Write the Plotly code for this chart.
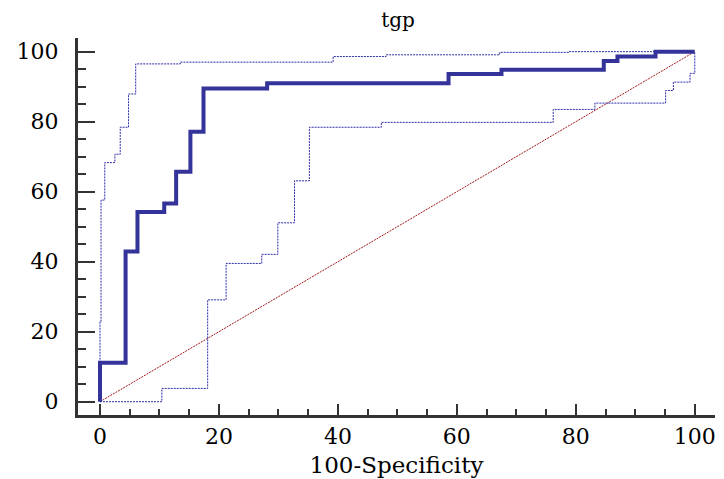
import plotly.graph_objects as go

# ROC curve (100-Specificity vs Sensitivity), step corners
roc_x = [0, 0, 4.3, 6.3, 10.8, 12.8, 15.2, 17.4, 28.1, 58.6, 67.5, 84.7, 87.0, 93.4, 100]
roc_y = [0, 11.1, 42.9, 54.2, 56.6, 65.7, 77.1, 89.5, 91.0, 93.6, 94.8, 97.3, 98.6, 100, 100]

# Upper confidence bound
upper_x = [0, 0, 0.17, 0.8, 2.5, 3.4, 4.8, 6.0, 13.5, 39.2, 48.1, 67.2, 78.8, 100]
upper_y = [0, 22.9, 57.6, 68.3, 70.7, 78.4, 87.9, 96.5, 97.0, 98.6, 99.1, 99.8, 100, 100]

# Lower confidence bound
lower_x = [0, 10.4, 18.1, 21.2, 27.2, 29.9, 32.7, 35.2, 47.3, 76.2, 83.2, 95.1, 96.4, 99.2, 100]
lower_y = [0, 3.8, 29.1, 39.5, 42.1, 51.1, 63.1, 78.4, 79.8, 83.5, 85.3, 88.9, 91.3, 93.8, 100]

# Reference diagonal
diag_x = [0, 100]
diag_y = [0, 100]

tick_vals = [0, 20, 40, 60, 80, 100]
tick_text = ["0", "20", "40", "60", "80", "100"]

FONT = "DejaVu Serif"
W, H = 716, 471  # page body has an 8px margin

fig = go.Figure()
fig.add_trace(go.Scatter(x=diag_x, y=diag_y, mode="lines",
                         line=dict(color="#a01818", width=1, dash="2px,1px"),
                         showlegend=False, hoverinfo="skip"))
fig.add_trace(go.Scatter(x=upper_x, y=upper_y, mode="lines",
                         line=dict(color="#2e2ea8", width=1, dash="2px,1px", shape="hv"),
                         showlegend=False))
fig.add_trace(go.Scatter(x=lower_x, y=lower_y, mode="lines",
                         line=dict(color="#2e2ea8", width=1, dash="2px,1px", shape="hv"),
                         showlegend=False))
fig.add_trace(go.Scatter(x=roc_x, y=roc_y, mode="lines",
                         line=dict(color="#333399", width=4, shape="hv"),
                         showlegend=False))

fig.update_layout(
    width=W, height=H,
    margin=dict(l=70, r=9, t=30, b=64),
    paper_bgcolor="white", plot_bgcolor="white",
    font=dict(family=FONT, color="black", size=22),
    title=dict(text="tgp", x=390/W, xref="container", xanchor="center",
               y=1-5/H, yref="container", yanchor="top", pad=dict(t=0, b=0),
               font=dict(family=FONT, size=20, color="black")),
)
fig.update_xaxes(
    range=[-3.7, 103.4], showgrid=False, zeroline=False,
    showline=True, linecolor="#333333", linewidth=3,
    tickmode="array", tickvals=tick_vals, ticktext=tick_text,
    ticks="inside", ticklen=11, tickwidth=2, tickcolor="#333333",
    minor=dict(dtick=5, tick0=0, ticks="inside", ticklen=6, tickwidth=2, tickcolor="#333333"),
    tickfont=dict(family=FONT, size=22, color="black"),
    ticklabelstandoff=0,
    title=dict(text="100-Specificity", font=dict(family=FONT, size=23, color="black"), standoff=9),
    automargin=False,
)
fig.update_yaxes(
    range=[-3.8, 103.9], showgrid=False, zeroline=False,
    showline=True, linecolor="#333333", linewidth=3,
    tickmode="array", tickvals=tick_vals, ticktext=tick_text,
    ticks="inside", ticklen=17, tickwidth=2, tickcolor="#333333",
    minor=dict(dtick=5, tick0=0, ticks="inside", ticklen=8, tickwidth=2, tickcolor="#333333"),
    tickfont=dict(family=FONT, size=22, color="black"),
    ticklabelstandoff=12,
    automargin=False,
)

fig.write_html("out.html")
